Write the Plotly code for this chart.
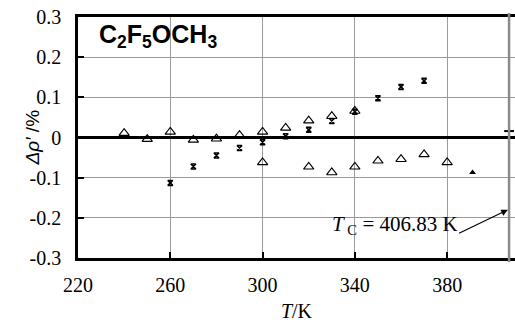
import plotly.graph_objects as go

# Data
T_tri_a = [240, 250, 260, 270, 280, 290, 300, 310, 320, 330, 340]
d_tri_a = [0.011, -0.004, 0.014, -0.006, -0.003, 0.006, 0.014, 0.024, 0.042, 0.053, 0.066]

T_tri_b = [300, 320, 330, 340, 350, 360, 370, 380]
d_tri_b = [-0.062, -0.073, -0.087, -0.073, -0.058, -0.054, -0.042, -0.062]

T_star = [260, 270, 280, 290, 300, 310, 320, 330, 340, 350, 360, 370]
d_star = [-0.113, -0.072, -0.045, -0.026, -0.012, 0.003, 0.019, 0.041, 0.064, 0.098, 0.126, 0.141]

T_fill = [391]
d_fill = [-0.087]

Tc = 406.83
Tc_mark = [0.016]

x_ticks = [220, 260, 300, 340, 380]
x_tick_text = ["220", "260", "300", "340", "380"]
y_ticks = [-0.3, -0.2, -0.1, 0, 0.1, 0.2, 0.3]
y_tick_text = ["-0.3", "-0.2", "-0.1", "0", "0.1", "0.2", "0.3"]

serif = "Liberation Serif"
sans = "Liberation Sans"

fig = go.Figure()
fig.add_trace(go.Scatter(x=T_tri_a, y=d_tri_a, mode="markers",
                         marker=dict(symbol="triangle-up-open", size=9, color="black",
                                     line=dict(width=1.1, color="black"))))
fig.add_trace(go.Scatter(x=T_tri_b, y=d_tri_b, mode="markers",
                         marker=dict(symbol="triangle-up-open", size=9, color="black",
                                     line=dict(width=1.1, color="black"))))
fig.add_trace(go.Scatter(x=T_star, y=d_star, mode="markers",
                         marker=dict(symbol="hourglass-open", size=5, color="black",
                                     line=dict(width=1.5, color="black"))))
fig.add_trace(go.Scatter(x=T_fill, y=d_fill, mode="markers",
                         marker=dict(symbol="triangle-up", size=6, color="black")))
fig.add_trace(go.Scatter(x=[Tc], y=Tc_mark, mode="markers",
                         marker=dict(symbol="line-ew-open", size=7, color="black",
                                     line=dict(width=2, color="black"))))

# critical temperature line
fig.add_shape(type="line", xref="x", yref="paper", x0=Tc, x1=Tc, y0=-0.017, y1=1.017,
              line=dict(color="#8a8a8a", width=2.5))

fig.add_annotation(x=0.043, y=0.995, xref="paper", yref="paper", xanchor="left", yanchor="top",
                   text="<b>C<sub>2</sub>F<sub>5</sub>OCH<sub>3</sub></b>", showarrow=False,
                   font=dict(family=sans, size=25, color="black"))

# y-axis title placed as a rotated annotation
fig.add_annotation(x=-0.105, y=0.5, xref="paper", yref="paper", xanchor="center",
                   yanchor="middle", textangle=-90, text="<i>Δρ′</i> /%", showarrow=False,
                   font=dict(family=sans, size=19, color="black"))

fig.add_annotation(x=385.5, y=-0.218, xref="x", yref="y", xanchor="right", yanchor="middle",
                   text="<i>T</i><sub> C</sub> = 406.83 K", showarrow=False,
                   font=dict(family=serif, size=21, color="black"))
fig.add_annotation(x=406.3, y=-0.180, ax=384.5, ay=-0.240, xref="x", yref="y",
                   axref="x", ayref="y", text="", showarrow=True,
                   arrowhead=2, arrowsize=1.1, arrowwidth=1.2, arrowcolor="black")

fig.update_layout(
    width=515, height=322,
    margin=dict(l=78, r=0, t=17, b=64, autoexpand=False),
    paper_bgcolor="white", plot_bgcolor="white",
    showlegend=False,
    font=dict(family=serif, color="black", size=19),
    xaxis=dict(range=[220, 409.4], tickvals=x_ticks, ticktext=x_tick_text, automargin=False,
               ticks="inside", ticklen=6, tickwidth=2,
               tickcolor="black", showline=True, linecolor="black", linewidth=2.5, mirror=True,
               showgrid=True, gridcolor="#9a9a9a", gridwidth=1, zeroline=False,
               tickfont=dict(family=serif, size=20, color="black"), ticklabelstandoff=7,
               title=dict(text="<i>T</i>/K", font=dict(family=serif, size=20, color="black"),
                          standoff=14)),
    yaxis=dict(range=[-0.3, 0.3], tickvals=y_ticks, ticktext=y_tick_text, automargin=False,
               ticks="inside",
               ticklen=6, tickwidth=2, tickcolor="black", showline=True, linecolor="black",
               linewidth=2.5, showgrid=True, gridcolor="#9a9a9a", gridwidth=1,
               zeroline=True, zerolinecolor="black", zerolinewidth=2.5,
               tickfont=dict(family=serif, size=20, color="black"), ticklabelstandoff=10),
)

fig.write_html("out.html", config={"displayModeBar": False},
               post_script="document.body.style.margin='0';")
